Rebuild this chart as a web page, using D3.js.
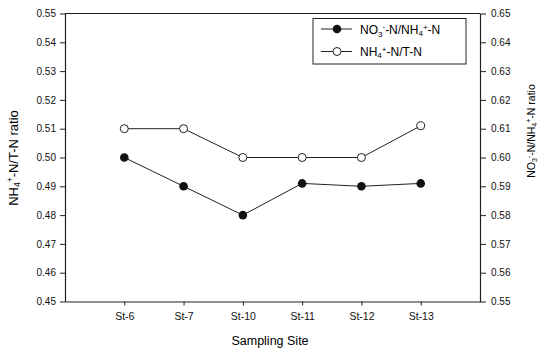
<!DOCTYPE html>
<html>
<head>
<meta charset="utf-8">
<script src="https://cdn.jsdelivr.net/npm/d3@7"></script>
<style>
  body { margin: 0; background: #fff; }
  svg { font-family: "Liberation Sans", Arial, sans-serif; }
  .tick text { fill: #111; }
</style>
</head>
<body>
<div id="graph"></div>
<script>
// data
var sites = ['St-6', 'St-7', 'St-10', 'St-11', 'St-12', 'St-13'];
var nh4TN = [0.510, 0.510, 0.500, 0.500, 0.500, 0.511];      // open circles, left axis
var no3NH4 = [0.600, 0.590, 0.580, 0.591, 0.590, 0.591];     // filled circles, right axis
var leftTicks = [0.45, 0.46, 0.47, 0.48, 0.49, 0.50, 0.51, 0.52, 0.53, 0.54, 0.55];
var rightTicks = [0.55, 0.56, 0.57, 0.58, 0.59, 0.60, 0.61, 0.62, 0.63, 0.64, 0.65];

var width = 540, height = 351;
var plotL = 65, plotR = 480, plotT = 13.5, plotB = 301.5;

var svg = d3.select('#graph').append('svg')
  .attr('width', width)
  .attr('height', height);

var x = d3.scalePoint().domain(sites).range([plotL, plotR]).padding(1);
var yL = d3.scaleLinear().domain([0.45, 0.55]).range([plotB, plotT]);
var yR = d3.scaleLinear().domain([0.55, 0.65]).range([plotB, plotT]);

// frame (top line)
svg.append('line')
  .attr('x1', plotL).attr('x2', plotR).attr('y1', plotT).attr('y2', plotT)
  .attr('stroke', '#222').attr('stroke-width', 1);

var axL = svg.append('g').attr('transform', 'translate(' + plotL + ',0)')
  .call(d3.axisLeft(yL).tickValues(leftTicks).tickFormat(d3.format('.2f')).tickSize(5).tickSizeOuter(0));
var axR = svg.append('g').attr('transform', 'translate(' + plotR + ',0)')
  .call(d3.axisRight(yR).tickValues(rightTicks).tickFormat(d3.format('.2f')).tickSize(6).tickSizeOuter(0));
var axB = svg.append('g').attr('transform', 'translate(0,' + plotB + ')')
  .call(d3.axisBottom(x).tickSize(4).tickSizeOuter(0));

[axL, axR, axB].forEach(function(a){
  a.select('.domain').attr('stroke', '#222').attr('stroke-width', 1.2);
  a.selectAll('.tick line').attr('stroke', '#222');
  a.selectAll('.tick text').style('font-size', '10px');
});
axL.selectAll('.tick text').attr('x', -9);
axR.selectAll('.tick text').attr('x', 11);
axB.selectAll('.tick text').attr('y', 11).style('font-size', '10.5px');

// lines + markers
var lineL = d3.line().x(function(d, i){ return x(sites[i]); }).y(function(d){ return yL(d); });
var lineR = d3.line().x(function(d, i){ return x(sites[i]); }).y(function(d){ return yR(d); });

svg.append('path').datum(nh4TN).attr('d', lineL)
  .attr('fill', 'none').attr('stroke', '#222').attr('stroke-width', 1);
svg.append('path').datum(no3NH4).attr('d', lineR)
  .attr('fill', 'none').attr('stroke', '#222').attr('stroke-width', 1);

svg.append('g').selectAll('circle').data(nh4TN).enter().append('circle')
  .attr('cx', function(d, i){ return x(sites[i]); })
  .attr('cy', function(d){ return yL(d); })
  .attr('r', 4).attr('fill', '#fff').attr('stroke', '#222').attr('stroke-width', 1);
svg.append('g').selectAll('circle').data(no3NH4).enter().append('circle')
  .attr('cx', function(d, i){ return x(sites[i]); })
  .attr('cy', function(d){ return yR(d); })
  .attr('r', 4.3).attr('fill', '#111');

// legend
var lg = svg.append('g');
lg.append('rect').attr('x', 313).attr('y', 18.5).attr('width', 153).attr('height', 45.5)
  .attr('fill', '#fff').attr('stroke', '#222').attr('stroke-width', 1);
lg.append('line').attr('x1', 321).attr('x2', 352).attr('y1', 29).attr('y2', 29).attr('stroke', '#222');
lg.append('circle').attr('cx', 337).attr('cy', 29).attr('r', 4.3).attr('fill', '#111');
lg.append('line').attr('x1', 321).attr('x2', 352).attr('y1', 51.5).attr('y2', 51.5).attr('stroke', '#222');
lg.append('circle').attr('cx', 337).attr('cy', 51.5).attr('r', 4).attr('fill', '#fff').attr('stroke', '#222');

var t1 = lg.append('text').attr('x', 360).attr('y', 33.5).style('font-size', '12px');
t1.append('tspan').text('NO');
t1.append('tspan').attr('dy', 3).style('font-size', '8px').text('3');
t1.append('tspan').attr('dy', -8).style('font-size', '8px').text('-');
t1.append('tspan').attr('dy', 5).text('-N/NH');
t1.append('tspan').attr('dy', 2).style('font-size', '8px').text('4');
t1.append('tspan').attr('dy', -6).style('font-size', '8px').text('+');
t1.append('tspan').attr('dy', 4).text('-N');

var t2 = lg.append('text').attr('x', 360).attr('y', 56).style('font-size', '12px');
t2.append('tspan').text('NH');
t2.append('tspan').attr('dy', 2).style('font-size', '8px').text('4');
t2.append('tspan').attr('dy', -6).style('font-size', '8px').text('+');
t2.append('tspan').attr('dy', 4).text('-N/T-N');

// axis titles
svg.append('text').attr('x', 270).attr('y', 345).attr('text-anchor', 'middle')
  .style('font-size', '12.5px').text('Sampling Site');

var yt = svg.append('text').attr('transform', 'translate(18,158) rotate(-90)')
  .attr('text-anchor', 'middle').style('font-size', '13px');
yt.append('tspan').text('NH');
yt.append('tspan').attr('dy', 2).style('font-size', '8.5px').text('4');
yt.append('tspan').attr('dy', -7).style('font-size', '8.5px').text('+');
yt.append('tspan').attr('dy', 5).text('-N/T-N ratio');

var rt = svg.append('text').attr('transform', 'translate(535,131) rotate(-90)')
  .attr('text-anchor', 'middle').style('font-size', '10.5px');
rt.append('tspan').text('NO');
rt.append('tspan').attr('dy', 2).style('font-size', '7px').text('3');
rt.append('tspan').attr('dy', -6).style('font-size', '7px').text('-');
rt.append('tspan').attr('dy', 4).text('-N/NH');
rt.append('tspan').attr('dy', 2).style('font-size', '7px').text('4');
rt.append('tspan').attr('dy', -6).style('font-size', '7px').text('+');
rt.append('tspan').attr('dy', 4).text('-N ratio');
</script>
</body>
</html>
